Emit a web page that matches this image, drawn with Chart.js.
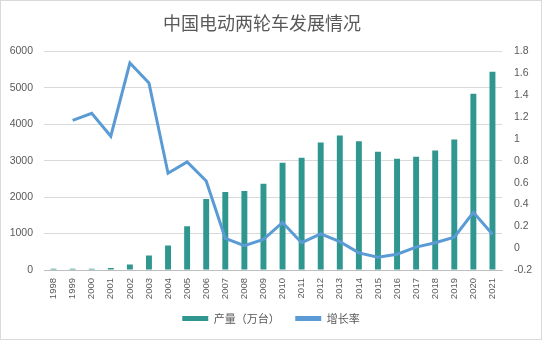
<!DOCTYPE html>
<html>
<head>
<meta charset="utf-8">
<script src="https://cdn.jsdelivr.net/npm/chart.js@4"></script>
<style>
  html, body { margin: 0; padding: 0; background: #fff; }
  #wrap { position: relative; width: 540px; height: 338px; border: 1px solid #d9d9d9; }
</style>
</head>
<body>
<div id="wrap"><canvas id="chart" width="540" height="338"></canvas></div>
<script>
const years = ['1998', '1999', '2000', '2001', '2002', '2003', '2004', '2005', '2006', '2007', '2008', '2009',
               '2010', '2011', '2012', '2013', '2014', '2015', '2016', '2017', '2018', '2019', '2020', '2021'];
const output = [35, 35, 35, 58, 150, 400, 675, 1200, 1950, 2140, 2170, 2370,
                2945, 3085, 3500, 3695, 3535, 3250, 3055, 3110, 3280, 3585, 4840, 5445];
const growth = [null, 1.17, 1.235, 1.025, 1.695, 1.513, 0.686, 0.79, 0.615, 0.09, 0.022, 0.08,
                0.235, 0.05, 0.13, 0.06, -0.043, -0.082, -0.055, 0.01, 0.05, 0.1, 0.328, 0.127];

const textColor = '#595959';
const font = 'Liberation Sans';

new Chart(document.getElementById('chart'), {
    type: 'bar',
    data: {
        labels: years,
        datasets: [
            {
                label: '产量（万台）', data: output, yAxisID: 'y', order: 1,
                backgroundColor: '#2F9690', borderWidth: 0,
                categoryPercentage: 0.62, barPercentage: 0.5
            },
            {
                type: 'line', label: '增长率', data: growth, yAxisID: 'y1', order: 0,
                borderColor: '#5B9BD5', backgroundColor: '#5B9BD5',
                borderWidth: 3, pointRadius: 0, tension: 0, fill: false
            }
        ]
    },
    options: {
        responsive: false, animation: false,
        layout: { padding: { left: 0, right: 0, top: 0, bottom: 5 } },
        scales: {
            x: {
                grid: { display: false, drawTicks: false },
                border: { color: '#bfbfbf' },
                ticks: { maxRotation: 90, minRotation: 90, padding: 8, color: textColor, font: { family: font, size: 9.5 } },
                afterFit: s => { s.height = 33; }
            },
            y: {
                position: 'left', min: 0, max: 6000,
                grid: { color: '#d9d9d9', drawTicks: false },
                border: { display: false },
                ticks: { stepSize: 1000, padding: 11, color: textColor, font: { family: font, size: 10.5 },
                         callback: v => String(v) },
                afterFit: s => { s.width = 43; }
            },
            y1: {
                position: 'right', min: -0.2, max: 1.8,
                grid: { display: false, drawTicks: false },
                border: { display: false },
                ticks: { stepSize: 0.2, padding: 12, color: textColor, font: { family: font, size: 10.5 },
                         callback: v => String(Number(v.toFixed(1))) },
                afterFit: s => { s.width = 39; }
            }
        },
        plugins: {
            title: {
                display: true, text: '中国电动两轮车发展情况\u3000', color: textColor,
                font: { family: 'Noto Sans CJK SC', size: 18, weight: 'normal' },
                padding: { top: 11, bottom: 18 }
            },
            legend: {
                position: 'bottom',
                labels: {
                    color: textColor, boxWidth: 26, boxHeight: 5, padding: 10,
                    font: { family: 'Noto Sans CJK SC', size: 11 },
                    generateLabels: chart => chart.data.datasets.map((d, i) => ({
                        text: i === 0 ? d.label + '\u3000' : d.label,
                        fillStyle: d.backgroundColor, strokeStyle: d.backgroundColor,
                        lineWidth: 0, fontColor: textColor, datasetIndex: i, hidden: false
                    }))
                }
            },
            tooltip: { enabled: false }
        }
    }
});
</script>
</body>
</html>
